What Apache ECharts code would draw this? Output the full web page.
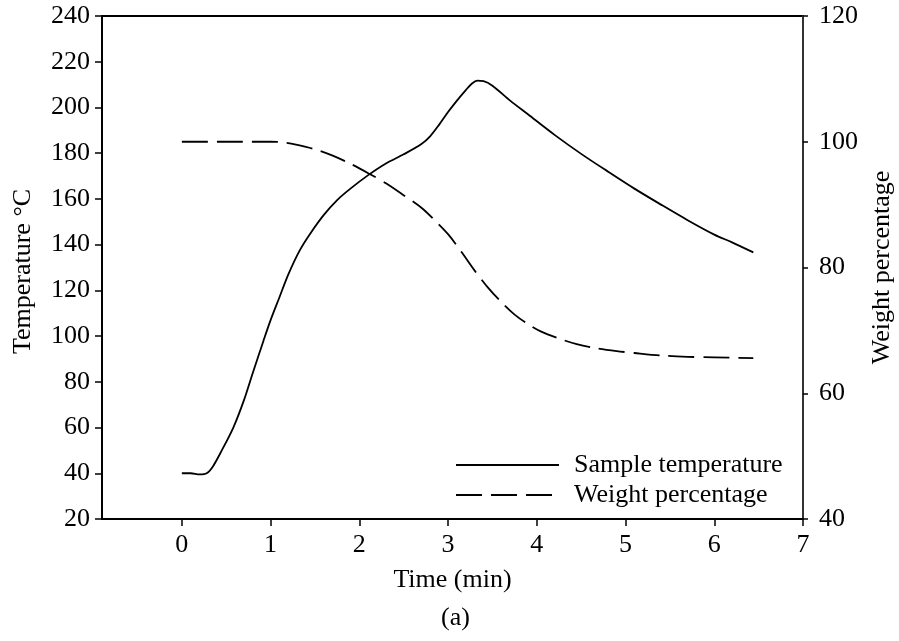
<!DOCTYPE html>
<html>
<head>
<meta charset="utf-8">
<script src="https://cdn.jsdelivr.net/npm/echarts@6/dist/echarts.min.js"></script>
<style>
html,body{margin:0;padding:0;background:#fff;}
#chart{width:899px;height:641px;}
</style>
</head>
<body>
<div id="chart"></div>
<script>
// ---- data ----
var tempTime = [0, 0.1, 0.2, 0.28, 0.35, 0.45, 0.58, 0.7, 0.8, 0.92, 1.0, 1.1, 1.2, 1.33, 1.45, 1.6, 1.75, 1.9, 2.1, 2.3, 2.5, 2.7, 2.8, 2.9, 3.0, 3.1, 3.2, 3.27, 3.33, 3.4, 3.5, 3.7, 3.9, 4.2, 4.5, 4.8, 5.1, 5.4, 5.7, 6.0, 6.2, 6.44];
var tempValues = [40, 40, 39.5, 40, 43, 50, 60, 72, 84, 98, 107, 117, 127, 137.6, 145, 153, 159.5, 164.5, 170.4, 175.5, 179.5, 184, 187.5, 192.5, 198, 203, 207.6, 210.5, 211.7, 211.5, 209.5, 203, 197, 188, 179.7, 172, 164.5, 157.5, 150.7, 144.4, 141, 136.6];
var weightTime = [0, 0.5, 1.0, 1.15, 1.3, 1.5, 1.7, 1.9, 2.1, 2.3, 2.5, 2.7, 2.85, 3.0, 3.15, 3.3, 3.45, 3.6, 3.75, 3.9, 4.05, 4.25, 4.45, 4.65, 4.9, 5.1, 5.4, 5.7, 6.0, 6.44];
var weightValues = [100, 100, 100, 99.9, 99.5, 98.8, 97.8, 96.5, 95, 93.4, 91.5, 89.5, 87.5, 85.3, 82.5, 79.5, 76.8, 74.5, 72.5, 71, 69.8, 68.7, 67.8, 67.2, 66.7, 66.4, 66, 65.8, 65.7, 65.6];
var xTicks = [0, 1, 2, 3, 4, 5, 6, 7];
var seriesNames = ['Sample temperature', 'Weight percentage'];

function pairs(xs, ys) { return xs.map(function (x, i) { return [x, ys[i]]; }); }

var FONT = "'Liberation Serif', 'DejaVu Serif', serif";
var FS = 26;
var chart = echarts.init(document.getElementById('chart'), null, {renderer: 'canvas'});
var option = {
  animation: false,
  backgroundColor: '#fff',
  textStyle: {fontFamily: FONT, color: '#000'},
  title: {
    text: '(a)', left: 436, top: 600,
    textStyle: {fontFamily: FONT, fontSize: FS, fontWeight: 'normal', color: '#000'}
  },
  grid: {left: 102, right: 96, top: 16, bottom: 122, show: true, borderColor: '#000', borderWidth: 2,
         containLabel: false, outerBoundsMode: 'none'},
  legend: {
    orient: 'vertical', left: 450, top: 447, itemWidth: 103, itemHeight: 14, itemGap: 4,
    data: seriesNames,
    itemStyle: {opacity: 0},
    textStyle: {fontFamily: FONT, fontSize: FS, color: '#000', padding: [0, 0, 0, 10]}
  },
  xAxis: {
    type: 'value', min: -0.9, max: 7,
    name: 'Time (min)', nameLocation: 'middle', nameGap: 48,
    nameTextStyle: {fontFamily: FONT, fontSize: FS, color: '#000'},
    axisLine: {show: true, onZero: false, lineStyle: {color: '#000', width: 2}},
    axisTick: {show: true, length: 7, lineStyle: {color: '#000', width: 1.5}, customValues: xTicks},
    axisLabel: {fontFamily: FONT, fontSize: FS, color: '#000', margin: 13, customValues: xTicks},
    splitLine: {show: false}
  },
  yAxis: [{
    type: 'value', min: 20, max: 240, interval: 20, position: 'left',
    name: 'Temperature °C', nameLocation: 'middle', nameGap: 66,
    nameTextStyle: {fontFamily: FONT, fontSize: FS, color: '#000', padding: [0, 8, 0, 0]},
    axisLine: {show: true, onZero: false, lineStyle: {color: '#000', width: 2}},
    axisTick: {show: true, length: 7, lineStyle: {color: '#000', width: 1.5}},
    axisLabel: {fontFamily: FONT, fontSize: FS, color: '#000', margin: 12},
    splitLine: {show: false}
  }, {
    type: 'value', min: 40, max: 120, interval: 20, position: 'right',
    name: 'Weight percentage', nameLocation: 'middle', nameGap: 64,
    nameTextStyle: {fontFamily: FONT, fontSize: FS, color: '#000'},
    axisLine: {show: true, onZero: false, lineStyle: {color: '#333', width: 2}},
    axisTick: {show: true, length: 5, lineStyle: {color: '#000', width: 1.5}},
    axisLabel: {fontFamily: FONT, fontSize: FS, color: '#000', margin: 16},
    splitLine: {show: false}
  }],
  series: [{
    name: seriesNames[0], type: 'line', yAxisIndex: 0, symbol: 'none', smooth: 0.3,
    lineStyle: {color: '#000', width: 1.8, type: 'solid'},
    itemStyle: {color: '#000'},
    data: pairs(tempTime, tempValues)
  }, {
    name: seriesNames[1], type: 'line', yAxisIndex: 1, symbol: 'none', smooth: 0.3,
    lineStyle: {color: '#000', width: 1.8, type: [26, 9]},
    itemStyle: {color: '#000'},
    data: pairs(weightTime, weightValues)
  }]
};
chart.setOption(option);
</script>
</body>
</html>
